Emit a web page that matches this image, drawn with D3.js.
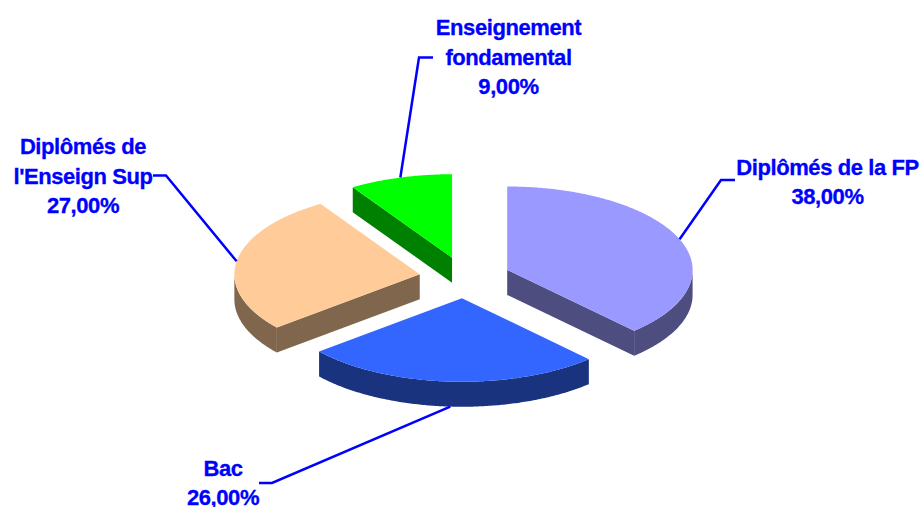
<!DOCTYPE html>
<html><head><meta charset="utf-8">
<script src="https://cdn.jsdelivr.net/npm/d3@7"></script>
<style>html,body{margin:0;padding:0;background:#fff}svg{display:block}</style>
</head><body><div id="c"></div>
<script>
const categories = ["Diplômés de la FP", "Bac", "Diplômés de l'Enseign Sup", "Enseignement fondamental"];
const values = [38, 26, 27, 9];
const valueLabels = ["38,00%", "26,00%", "27,00%", "9,00%"];
const labelLines = [["Diplômés de la FP"], ["Bac"], ["Diplômés de", "l'Enseign Sup"], ["Enseignement", "fondamental"]];
const topColors = ["#9999FF", "#3366FF", "#FFCC99", "#00FF00"];
const sideColors = ["#4D4D80", "#19337F", "#7F664C", "#008000"];

const W = 920, H = 507;
const pie = {cx: 464.8, cy: 277.6, rx: 185.4, ry: 83.5, depth: 25, exX: 45.6, exY: 20.7};
// label layout: text centre, first baseline, leader elbow, leader tail
const layout = [
  {x: 827.5, y: 174.5, elbow: [721, 180], tail: [735, 180]},
  {x: 223, y: 475.5, elbow: [272, 483], tail: [259, 483]},
  {x: 83, y: 154, elbow: [166, 175.5], tail: [153, 175.5]},
  {x: 508.5, y: 35, elbow: [419, 57.5], tail: [433, 57.5]}
];
const lineStep = 29.6;

const svg = d3.select("#c").append("svg").attr("width", W).attr("height", H);
const arcs = d3.pie().sort(null).value(d => d)(values);

function centre(a) {
  const m = (a.startAngle + a.endAngle) / 2;
  return [pie.cx + pie.exX * Math.sin(m), pie.cy - pie.exY * Math.cos(m)];
}
function project(c, ang, dz = 0) {
  return [c[0] + pie.rx * Math.sin(ang), c[1] - pie.ry * Math.cos(ang) + dz];
}
function samples(a0, a1) {
  const n = Math.max(2, Math.ceil((a1 - a0) / 0.01));
  return d3.range(n + 1).map(i => a0 + (a1 - a0) * i / n);
}
const line = d3.line();

const wallsG = svg.append("g");
const topsG = svg.append("g");
const leadG = svg.append("g");
const textG = svg.append("g");

arcs.forEach((a, i) => {
  const c = centre(a);
  const s = sideColors[i];
  const s0 = a.startAngle, s1 = a.endAngle;
  // radial walls facing the viewer
  [[s0, Math.sin(s0) < -1e-6], [s1, Math.sin(s1) > 1e-6]].forEach(([ang, vis]) => {
    if (!vis) return;
    const e = project(c, ang);
    wallsG.append("path").attr("fill", s).attr("d", line([c, e, [e[0], e[1] + pie.depth], [c[0], c[1] + pie.depth]]) + "Z");
  });
  // outer wall: front half only
  const f0 = Math.max(s0, Math.PI / 2), f1 = Math.min(s1, 3 * Math.PI / 2);
  if (f1 > f0) {
    const ang = samples(f0, f1);
    const pts = ang.map(t => project(c, t)).concat(ang.slice().reverse().map(t => project(c, t, pie.depth)));
    wallsG.append("path").attr("fill", s).attr("d", line(pts) + "Z");
  }
  // top face
  const pts = [c].concat(samples(s0, s1).map(t => project(c, t)));
  topsG.append("path").attr("fill", topColors[i]).attr("d", line(pts) + "Z");

  // leader line
  const m = (s0 + s1) / 2;
  const front = Math.cos(m) < 0 && Math.abs(Math.sin(m)) < 0.3;
  const start = project(c, m, front ? pie.depth : 0);
  const L = layout[i];
  leadG.append("path").attr("fill", "none").attr("stroke", "#0000FF").attr("stroke-width", 2.5)
    .attr("d", line([start, L.elbow, L.tail]));

  // label text
  labelLines[i].concat([valueLabels[i]]).forEach((t, k) => {
    textG.append("text").attr("x", L.x).attr("y", L.y + k * lineStep)
      .attr("text-anchor", "middle")
      .attr("font-family", "'Liberation Sans', Arial, sans-serif")
      .attr("font-weight", "bold").attr("font-size", 22)
      .attr("letter-spacing", "-0.42px")
      .attr("stroke", "#0000FF").attr("stroke-width", 0.3)
      .attr("fill", "#0000FF").text(t);
  });
});
</script></body></html>
